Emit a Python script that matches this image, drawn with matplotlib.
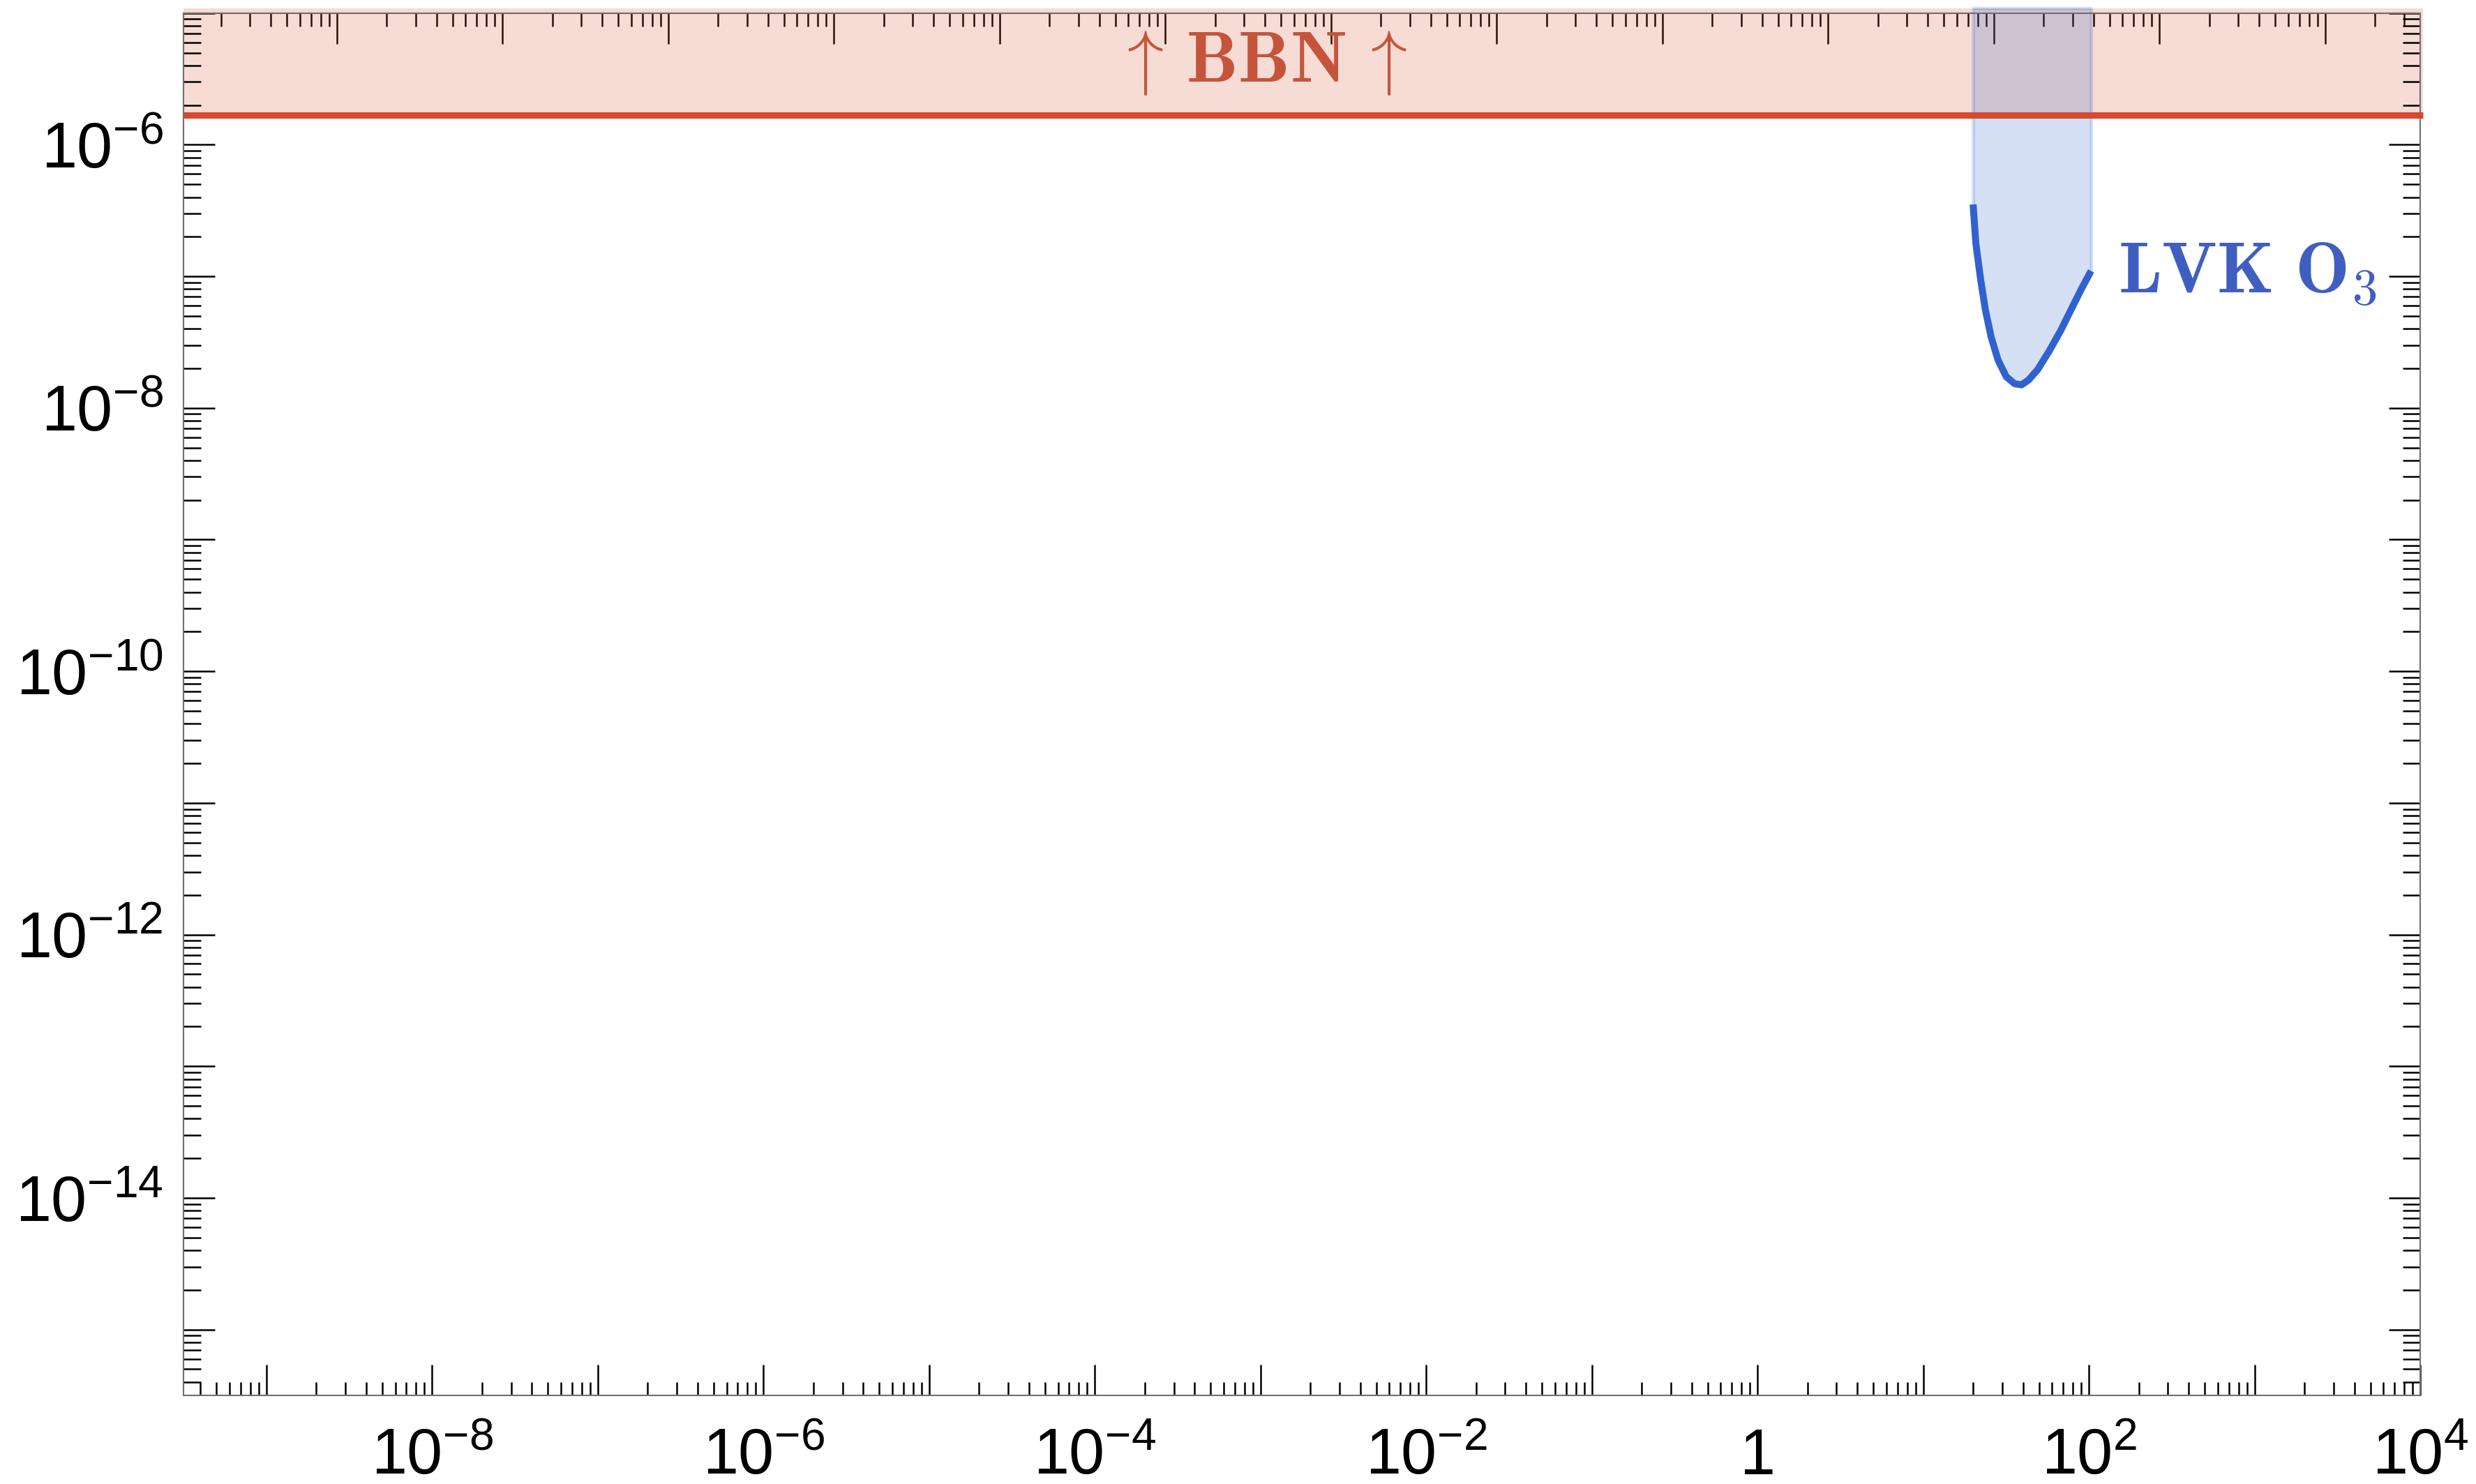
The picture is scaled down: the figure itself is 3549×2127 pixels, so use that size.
import numpy as np
import matplotlib
matplotlib.use('Agg')
import matplotlib.pyplot as plt
from matplotlib.ticker import FixedLocator, LogLocator, NullFormatter, FuncFormatter

plt.rcParams['font.family']=['Liberation Sans','DejaVu Sans']
plt.rcParams['mathtext.fontset']='custom'
plt.rcParams['mathtext.rm']='Liberation Sans'
plt.rcParams['mathtext.it']='Liberation Sans:italic'
plt.rcParams['mathtext.bf']='Liberation Sans:bold'

# LVK O3 upper limit
lvk_f=[20,20.8,22.2,23.7,25.7,28.3,31.7,35.6,39.2,43.2,49.1,57.7,67.8,79.6,90.6,103]
lvk_omega=[3.52e-7,1.76e-7,9.5e-8,5.6e-8,3.46e-8,2.31e-8,1.73e-8,1.53e-8,1.50e-8,
           1.63e-8,1.96e-8,2.72e-8,3.91e-8,5.87e-8,8.13e-8,1.10e-7]
# BBN bound
bbn_level=1.68e-6

x_lim=[10**-9.5,1e4]
y_lim=[10**-15.5,1e-5]
x_decades=np.arange(-9,5)
y_decades=np.arange(-15,-4)
top_shift=10**0.425   # top frame ticks are offset from the bottom ones

red='#D44B30'
blue='#3062CF'

fig=plt.figure(figsize=(3549/300,2127/300),dpi=300)
ax=fig.add_axes([0.0741,0.0597,0.9034,0.9315])
ax.set_xscale('log')
ax.set_yscale('log')
ax.set_xlim(x_lim)
ax.set_ylim(y_lim)

# bands slightly overshoot the frame like in the original
over_x=10**0.017
over_y=10**0.037
ax.fill_between([x_lim[0],x_lim[1]*over_x],[bbn_level]*2,[y_lim[1]*over_y]*2,
                color='#D94E2E',alpha=0.2,lw=0,clip_on=False,zorder=1)
ax.fill_between(lvk_f,lvk_omega,[y_lim[1]*over_y]*len(lvk_f),
                color='#3366CC',alpha=0.2,lw=1.2,clip_on=False,zorder=2)
ax.hlines(bbn_level,x_lim[0],x_lim[1]*over_x,color=red,lw=2.2,clip_on=False,zorder=3)
ax.plot(lvk_f,lvk_omega,color=blue,lw=2.4,solid_capstyle='butt',zorder=4)

ax.text(1e-3,10**-5.38,r'$\uparrow\,\mathbf{BBN}\,\uparrow$',color='#C5553A',
        fontsize=25,ha='center',va='center',math_fontfamily='cm')
ax.text(150,10**-7.13,r'$\mathbf{LVK\ O}_{\mathbf{3}}$',color='#3F5FC0',
        fontsize=25,ha='left',va='baseline',math_fontfamily='cm')

def dec_label(v,pos):
    e=int(round(np.log10(v)))
    if e%2:
        return ''
    if e==0:
        return '1'
    return r'$10^{%d}$'%e

ax.xaxis.set_major_locator(FixedLocator(10.0**x_decades))
ax.yaxis.set_major_locator(FixedLocator(10.0**y_decades))
ax.xaxis.set_minor_locator(LogLocator(base=10,subs=np.arange(2,10),numticks=40))
ax.yaxis.set_minor_locator(LogLocator(base=10,subs=np.arange(2,10),numticks=40))
ax.xaxis.set_major_formatter(FuncFormatter(dec_label))
ax.yaxis.set_major_formatter(FuncFormatter(dec_label))
ax.xaxis.set_minor_formatter(NullFormatter())
ax.yaxis.set_minor_formatter(NullFormatter())

ax.tick_params(which='both',direction='in',top=False,right=True,width=0.6,color='black',labelsize=22)
ax.tick_params(axis='x',which='major',length=10.5,pad=27)
ax.tick_params(axis='x',which='minor',length=4.6)
ax.tick_params(axis='y',which='major',length=10.8,pad=7)
ax.tick_params(axis='y',which='minor',length=6)
for sp in ax.spines.values():
    sp.set_color('#707070')
    sp.set_linewidth(0.5)

secax=ax.secondary_xaxis('top',functions=(lambda x:x/top_shift,lambda t:t*top_shift))
secax.xaxis.set_major_locator(LogLocator(base=10,numticks=40))
secax.xaxis.set_minor_locator(LogLocator(base=10,subs=np.arange(2,10),numticks=40))
secax.xaxis.set_major_formatter(NullFormatter())
secax.xaxis.set_minor_formatter(NullFormatter())
secax.tick_params(which='both',direction='in',width=0.6,color='black')
secax.tick_params(which='major',length=10.5)
secax.tick_params(which='minor',length=4.6)
secax.spines['top'].set_color('#707070')
secax.spines['top'].set_linewidth(0.5)

fig.canvas.draw()
for t in ax.xaxis.get_major_ticks():
    t.label1.set_verticalalignment('baseline')

fig.savefig('out.png',dpi=300)
